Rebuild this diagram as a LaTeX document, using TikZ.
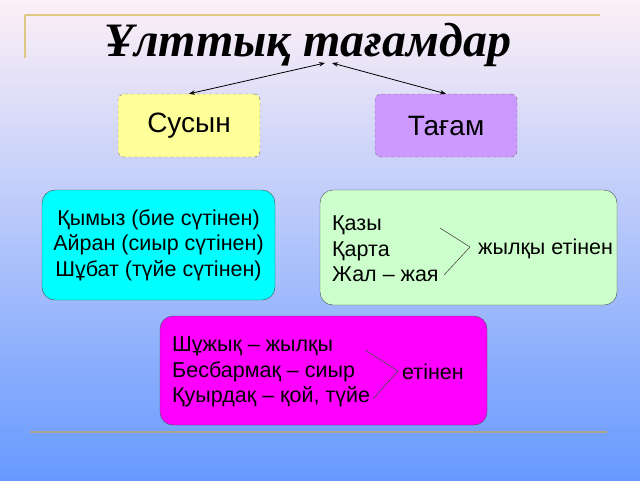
\documentclass[tikz,border=0pt]{standalone}
\usepackage{fontspec}
\setmainfont{Liberation Sans}
\newfontfamily\titlefont{Liberation Serif}
\usetikzlibrary{arrows.meta}
\definecolor{bgtop}{RGB}{253,240,246}
\definecolor{bgbot}{RGB}{102,153,255}
\definecolor{drinkfill}{RGB}{255,255,153}
\definecolor{foodfill}{RGB}{204,153,255}
\definecolor{milkfill}{RGB}{0,255,255}
\definecolor{horsefill}{RGB}{204,255,204}
\definecolor{meatfill}{RGB}{255,0,255}
\definecolor{goldline}{RGB}{222,200,130}
\definecolor{rulegray}{RGB}{175,165,140}

\begin{document}
\begin{tikzpicture}[x=1pt, y=-1pt,
        topbox/.style={rectangle, rounded corners=6pt, draw=black!55, dashed, font=\fontsize{28}{32}\selectfont},
        listbox/.style={rectangle, rounded corners=13pt, draw=black!70, font=\fontsize{21.5}{25.5}\selectfont, inner sep=0pt},
        link/.style={{Stealth[length=6pt]}-{Stealth[length=6pt]}, thick},
        brace/.style={draw=black!70, line width=0.6pt}
    ]
    % background
    \shade[top color=bgtop, bottom color=bgbot] (0,0) rectangle (640,480);
    \useasboundingbox (0,0) rectangle (640,480);
    % frame lines
    \draw[line width=2pt, goldline] (25,15) -- (600,15);
    \draw[line width=2pt, goldline] (25,15) -- (25,58);
    \draw[line width=2.5pt, rulegray] (30,432) -- (607,432);
    % title
    \node[font=\titlefont\bfseries\itshape\fontsize{48}{54}\selectfont] (title) at (308,45) {Ұлттық тағамдар};
    \coordinate (tl) at (325,63);
    \coordinate (tr) at (332,63);
    % groups
    \node[topbox, fill=drinkfill, minimum width=142pt, minimum height=63pt] (drink) at (189,125.5) {Сусын};
    \node[topbox, fill=foodfill, minimum width=142pt, minimum height=63pt] (food) at (446,125.5) {Тағам};
    % lists
    \node[listbox, fill=milkfill, minimum width=233pt, minimum height=110pt, align=center] (milk) at (158.5,245) {Қымыз (бие сүтінен)\\Айран (сиыр сүтінен)\\Шұбат (түйе сүтінен)};
    \node[listbox, fill=horsefill, minimum width=297pt, minimum height=115pt] (horse) at (468.5,247.5) {};
    \node[font=\fontsize{21.5}{25.5}\selectfont, align=left, anchor=west, inner sep=0pt] (horsel) at (332,249) {Қазы\\Қарта\\Жал -- жая};
    \node[font=\fontsize{21.5}{25.5}\selectfont, anchor=west, inner sep=0pt] (horser) at (478,249) {жылқы етінен};
    \node[listbox, fill=meatfill, minimum width=327pt, minimum height=109pt] (meat) at (323.5,370.5) {};
    \node[font=\fontsize{21.5}{25.5}\selectfont, align=left, anchor=west, inner sep=0pt] (meatl) at (172,372) {Шұжық -- жылқы\\Бесбармақ -- сиыр\\Қуырдақ -- қой, түйе};
    \node[font=\fontsize{21.5}{25.5}\selectfont, anchor=west, inner sep=0pt] (meatr) at (402,372) {етінен};
    % brackets
    \draw[brace] (440,228) -- (470,247) -- (444,275);
    \draw[brace] (365,350) -- (398,371) -- (373,399);
    % connections
    \draw[link] (tl) -- (drink.north);
    \draw[link] (tr) -- (food.north);
\end{tikzpicture}
\end{document}
